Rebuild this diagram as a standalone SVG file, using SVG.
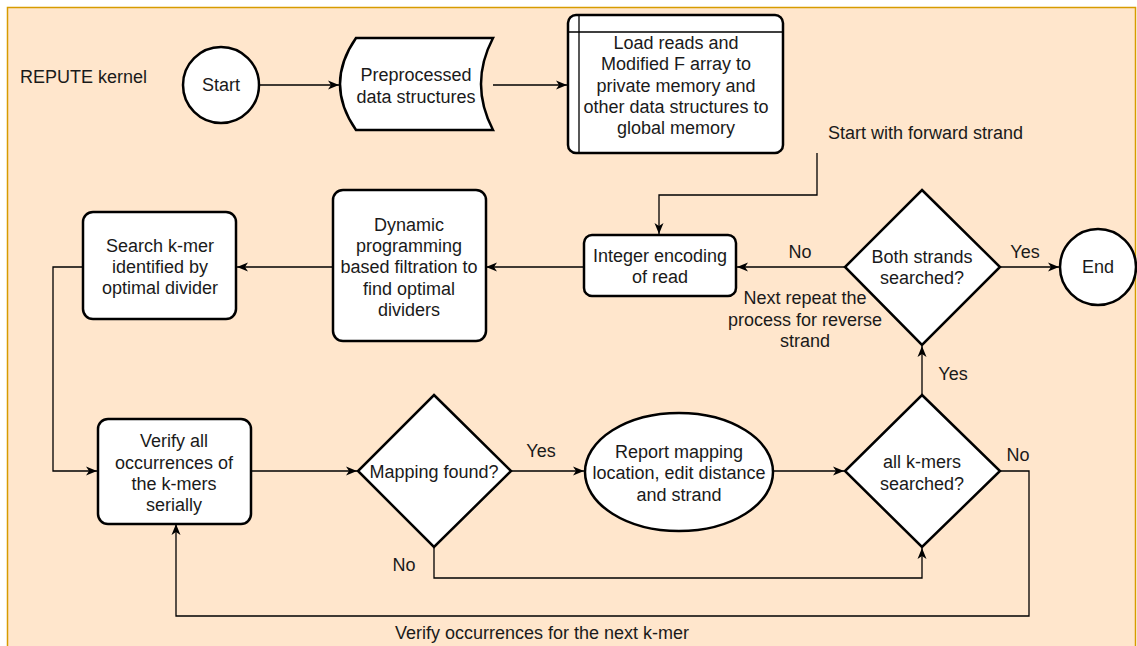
<svg xmlns="http://www.w3.org/2000/svg" width="1137" height="646" viewBox="0 0 1137 646">
<defs>
<style>
text{font-family:"Liberation Sans",Arial,sans-serif;font-size:18px;fill:#1a1a1a;text-anchor:middle}
.t{text-anchor:start}
.n{fill:#fff;stroke:#000;stroke-width:2.5}
.c{fill:none;stroke:#000;stroke-width:1.3}
</style>
<marker id="a" markerUnits="userSpaceOnUse" markerWidth="12" markerHeight="10" refX="11" refY="5" orient="auto">
<path d="M0,0.5 L11,5 L0,9.5 L3,5 Z" fill="#000"/>
</marker>
</defs>
<rect x="7.5" y="7.5" width="1128" height="660" fill="#ffe6cc" stroke="#d79b00" stroke-width="1.5"/>
<text class="t" x="20" y="83">REPUTE kernel</text>

<g id="connectors">
<path class="c" d="M260,85 L339,85" marker-end="url(#a)"/>
<path class="c" d="M493,85 L567,85" marker-end="url(#a)"/>
<path class="c" d="M817,153 L817,195 L659,195 L659,234" marker-end="url(#a)"/>
<path class="c" d="M845,267 L737,267" marker-end="url(#a)"/>
<path class="c" d="M1000,267 L1059,267" marker-end="url(#a)"/>
<path class="c" d="M584,267 L486,267" marker-end="url(#a)"/>
<path class="c" d="M333,267 L237,267" marker-end="url(#a)"/>
<path class="c" d="M83,267 L53,267 L53,471 L97,471" marker-end="url(#a)"/>
<path class="c" d="M251,471 L357,471" marker-end="url(#a)"/>
<path class="c" d="M511,471 L584,471" marker-end="url(#a)"/>
<path class="c" d="M773,471 L844,471" marker-end="url(#a)"/>
<path class="c" d="M434,547 L434,578 L922,578 L922,548" marker-end="url(#a)"/>
<path class="c" d="M922,395 L922,346" marker-end="url(#a)"/>
<path class="c" d="M1000,471 L1029,471 L1029,616 L176,616 L176,524" marker-end="url(#a)"/>
<text class="t" x="828" y="139">Start with forward strand</text>
<text x="800" y="258">No</text>
<text x="1025" y="258">Yes</text>
<text x="805" y="304">Next repeat the</text>
<text x="805" y="326">process for reverse</text>
<text x="805" y="347">strand</text>
<text x="541" y="457">Yes</text>
<text x="404" y="571">No</text>
<text x="953" y="380">Yes</text>
<text x="1018" y="461">No</text>
<text x="542" y="639">Verify occurrences for the next k-mer</text>
</g>

<g id="start">
<circle class="n" cx="221" cy="85" r="38"/>
<text x="221" y="91">Start</text>
</g>

<g id="preprocessed">
<path class="n" d="M356,38 L493,38 Q469,84 493,130 L356,130 Q324,84 356,38 Z"/>
<text x="416" y="81">Preprocessed</text>
<text x="416" y="103">data structures</text>
</g>

<g id="load">
<rect class="n" x="568" y="15" width="215" height="138" rx="8"/>
<path class="c" d="M579,16 L579,152 M569,32 L782,32" stroke-width="2.5"/>
<text x="676" y="49">Load reads and</text>
<text x="676" y="70">Modified F array to</text>
<text x="676" y="92">private memory and</text>
<text x="676" y="113">other data structures to</text>
<text x="676" y="134">global memory</text>
</g>

<g id="integer">
<rect class="n" x="584" y="235" width="152" height="61" rx="8"/>
<text x="660" y="262">Integer encoding</text>
<text x="660" y="283">of read</text>
</g>

<g id="both">
<path class="n" d="M922,190 L1000,267 L922,345 L845,267 Z"/>
<text x="922" y="263">Both strands</text>
<text x="922" y="284">searched?</text>
</g>

<g id="end">
<circle class="n" cx="1098" cy="267" r="38"/>
<text x="1098" y="273">End</text>
</g>

<g id="dynamic">
<rect class="n" x="333" y="190" width="153" height="151" rx="10"/>
<text x="409" y="231">Dynamic</text>
<text x="409" y="252">programming</text>
<text x="409" y="273">based filtration to</text>
<text x="409" y="295">find optimal</text>
<text x="409" y="316">dividers</text>
</g>

<g id="search">
<rect class="n" x="83" y="212" width="153" height="107" rx="10"/>
<text x="160" y="252">Search k-mer</text>
<text x="160" y="273">identified by</text>
<text x="160" y="294">optimal divider</text>
</g>

<g id="verify">
<rect class="n" x="98" y="419" width="153" height="105" rx="10"/>
<text x="174" y="447">Verify all</text>
<text x="174" y="469">occurrences of</text>
<text x="174" y="490">the k-mers</text>
<text x="174" y="511">serially</text>
</g>

<g id="mapping">
<path class="n" d="M434,395 L511,471 L434,547 L358,471 Z"/>
<text x="434" y="478">Mapping found?</text>
</g>

<g id="report">
<ellipse class="n" cx="679" cy="472" rx="94" ry="59"/>
<text x="679" y="458">Report mapping</text>
<text x="679" y="479">location, edit distance</text>
<text x="679" y="501">and strand</text>
</g>

<g id="allk">
<path class="n" d="M922,395 L1000,471 L922,547 L845,471 Z"/>
<text x="922" y="468">all k-mers</text>
<text x="922" y="490">searched?</text>
</g>
</svg>
